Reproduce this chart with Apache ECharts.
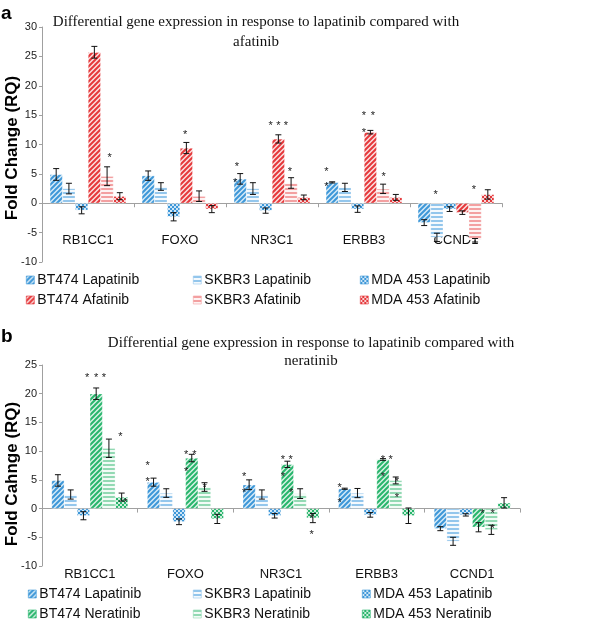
<!DOCTYPE html>
<html>
<head>
<meta charset="utf-8">
<script src="https://cdn.jsdelivr.net/npm/echarts@6/dist/echarts.min.js"></script>
<style>
  html, body { margin: 0; padding: 0; background: #fff; }
  #chart { width: 600px; height: 636px; }
</style>
</head>
<body>
<div id="chart"></div>
<script>
const genes = ['RB1CC1', 'FOXO', 'NR3C1', 'ERBB3', 'CCND1'];
const namesA = ['BT474 Lapatinib', 'SKBR3 Lapatinib', 'MDA 453 Lapatinib', 'BT474 Afatinib', 'SKBR3 Afatinib', 'MDA 453 Afatinib'];
const namesB = ['BT474 Lapatinib', 'SKBR3 Lapatinib', 'MDA 453 Lapatinib', 'BT474 Neratinib', 'SKBR3 Neratinib', 'MDA 453 Neratinib'];
const ticksA = { min: -10, max: 30, step: 5 };
const ticksB = { min: -10, max: 25, step: 5 };

// panel a: lapatinib vs afatinib
const bt474LapA = [4.9, 4.7, 4.15, 3.55, -3.3];
const skbr3LapA = [2.5, 2.85, 2.5, 2.7, -5.8];
const mdaLapA = [-1.2, -2.3, -1.25, -1.0, -1.0];
const bt474Afa = [25.7, 9.4, 10.95, 12.1, -1.6];
const skbr3Afa = [4.6, 1.2, 3.45, 2.45, -6.3];
const mdaAfa = [1.2, -1.0, 1.0, 1.0, 1.5];
const bt474LapAErr = [1.0, 0.8, 0.9, 0.1, 0.5];
const skbr3LapAErr = [0.9, 0.65, 1.0, 0.7, 0.7];
const mdaLapAErr = [0.6, 0.7, 0.45, 0.55, 0.4];
const bt474AfaErr = [1.0, 0.95, 0.7, 0.3, 0.3];
const skbr3AfaErr = [1.6, 0.9, 0.9, 0.8, 0.3];
const mdaAfaErr = [0.6, 0.6, 0.4, 0.5, 0.8];

// panel b: lapatinib vs neratinib
const bt474LapB = [4.9, 4.6, 4.15, 3.45, -3.5];
const skbr3LapB = [2.45, 2.7, 2.45, 2.7, -5.7];
const mdaLapB = [-1.25, -2.3, -1.25, -1.1, -1.1];
const bt474Ner = [20.0, 8.8, 7.7, 8.55, -3.25];
const skbr3Ner = [10.5, 3.75, 2.6, 4.9, -3.7];
const mdaNer = [2.0, -1.8, -1.65, -1.25, 1.0];
const bt474LapBErr = [1.0, 0.7, 0.85, 0.1, 0.35];
const skbr3LapBErr = [0.8, 0.75, 0.8, 0.8, 0.7];
const mdaLapBErr = [0.7, 0.5, 0.4, 0.4, 0.2];
const bt474NerErr = [1.0, 0.65, 0.55, 0.15, 0.8];
const skbr3NerErr = [1.6, 0.75, 0.85, 0.6, 0.8];
const mdaNerErr = [0.7, 0.8, 0.8, 1.35, 0.9];

// asterisks: [gene index, bar slot (0..5), value]
const starsA = [
  [0, 4.2, 8.2],
  [1, 2.9, 12.2],
  [2, 2.4, 13.7], [2, 3.0, 13.7], [2, 3.6, 13.7], [2, -0.25, 6.7], [2, -0.4, 4.0], [2, 3.9, 5.85],
  [3, -0.45, 5.85], [3, -0.45, 3.2], [3, 2.5, 15.3], [3, 3.2, 15.3], [3, 2.5, 12.5], [3, 4.05, 5.0],
  [4, 0.9, 2.0], [4, 3.9, 2.7]
];
const starsB = [
  [0, 2.3, 23.2], [0, 3.0, 23.2], [0, 3.6, 23.2], [0, 4.9, 13.0], [0, 5.3, 1.5],
  [1, -0.47, 7.95], [1, -0.47, 5.1], [1, 2.55, 9.8], [1, 3.2, 9.8], [1, 2.55, 6.9], [1, 4.0, 4.15],
  [2, -0.4, 6.0], [2, -0.4, 3.3], [2, 2.65, 8.9], [2, 3.25, 8.9], [2, 2.65, 6.0], [2, 3.3, 3.3], [2, 4.9, -1.25], [2, 4.9, -4.1],
  [3, -0.4, 4.15], [3, -0.4, 1.5], [3, 3.0, 8.9], [3, 3.6, 8.9], [3, 3.0, 6.0], [3, 4.1, 5.1], [3, 4.1, 2.3],
  [4, 3.3, -0.4], [4, 4.1, -0.4], [4, 4.1, -3.1]
];

const valuesA = [bt474LapA, skbr3LapA, mdaLapA, bt474Afa, skbr3Afa, mdaAfa];
const errorsA = [bt474LapAErr, skbr3LapAErr, mdaLapAErr, bt474AfaErr, skbr3AfaErr, mdaAfaErr];
const valuesB = [bt474LapB, skbr3LapB, mdaLapB, bt474Ner, skbr3Ner, mdaNer];
const errorsB = [bt474LapBErr, skbr3LapBErr, mdaLapBErr, bt474NerErr, skbr3NerErr, mdaNerErr];

const SANS = 'Liberation Sans, Arial, sans-serif';
const SERIF = 'Liberation Serif, Times New Roman, serif';

function makePattern(kind, fg, bg) {
  const c = document.createElement('canvas');
  const ctx = c.getContext('2d');
  if (kind === 'diag') {
    c.width = c.height = 5;
    ctx.fillStyle = bg;
    ctx.fillRect(0, 0, 5, 5);
    ctx.strokeStyle = fg;
    ctx.lineWidth = 2;
    ctx.beginPath();
    ctx.moveTo(-1, 6); ctx.lineTo(6, -1);
    ctx.moveTo(-3, 3); ctx.lineTo(3, -3);
    ctx.moveTo(2, 8); ctx.lineTo(8, 2);
    ctx.stroke();
  } else if (kind === 'horiz') {
    c.width = c.height = 4;
    ctx.fillStyle = bg;
    ctx.fillRect(0, 0, 4, 4);
    ctx.fillStyle = fg;
    ctx.fillRect(0, 0, 4, 2);
  } else {
    c.width = c.height = 4;
    ctx.fillStyle = fg;
    ctx.fillRect(0, 0, 4, 4);
    ctx.fillStyle = bg;
    ctx.fillRect(0, 0, 2, 2);
    ctx.fillRect(2, 2, 2, 2);
  }
  return { image: c, repeat: 'repeat' };
}

const blueInk = ['#3d97d8', '#93c6ec', '#3d97d8'];
const redInk = ['#e5383b', '#f3a0a1', '#e5383b'];
const greenInk = ['#27b56c', '#92d9b3', '#27b56c'];
const blue = [makePattern('diag', blueInk[0], '#d4eaf8'), makePattern('horiz', blueInk[1], '#f4f9fd'), makePattern('check', blueInk[2], '#cfe6f7')];
const red = [makePattern('diag', redInk[0], '#fbe0e0'), makePattern('horiz', redInk[1], '#fdf3f3'), makePattern('check', redInk[2], '#f9d3d3')];
const green = [makePattern('diag', greenInk[0], '#d6f2e3'), makePattern('horiz', greenInk[1], '#f2fbf6'), makePattern('check', greenInk[2], '#cdeedb')];
const fillsA = blue.concat(red);
const fillsB = blue.concat(green);
const inksA = blueInk.concat(redInk);
const inksB = blueInk.concat(greenInk);

function errorRenderer(gapFrac) {
  return function (params, api) {
    const cat = api.value(0);
    const val = api.value(1);
    const err = api.value(2);
    const slot = api.value(3);
    const band = api.size([1, 0])[0];
    const barW = band * (1 - gapFrac) / 6;
    const x = api.coord([cat, val])[0] + (slot - 2.5) * barW;
    const yTop = api.coord([cat, val + err])[1];
    const yBot = api.coord([cat, val - err])[1];
    const cap = 3;
    const st = { stroke: '#111', lineWidth: 1 };
    return {
      type: 'group',
      children: [
        { type: 'line', shape: { x1: x, y1: yTop, x2: x, y2: yBot }, style: st },
        { type: 'line', shape: { x1: x - cap, y1: yTop, x2: x + cap, y2: yTop }, style: st },
        { type: 'line', shape: { x1: x - cap, y1: yBot, x2: x + cap, y2: yBot }, style: st }
      ]
    };
  };
}

function starRenderer(gapFrac) {
  return function (params, api) {
    const cat = api.value(0);
    const slot = api.value(1);
    const val = api.value(2);
    const band = api.size([1, 0])[0];
    const barW = band * (1 - gapFrac) / 6;
    const pt = api.coord([cat, val]);
    return {
      type: 'text',
      x: pt[0] + (slot - 2.5) * barW,
      y: pt[1] + 3,
      style: { text: '*', textAlign: 'center', textVerticalAlign: 'middle', font: '11px ' + SANS, fill: '#222' }
    };
  };
}

function buildPanel(idx, names, values, errors, fills, stars, gapFrac) {
  const list = [];
  names.forEach((name, i) => {
    list.push({
      name,
      type: 'bar',
      xAxisIndex: idx,
      yAxisIndex: idx,
      data: values[i],
      barGap: '0%',
      barCategoryGap: Math.round(gapFrac * 100) + '%',
      itemStyle: { color: fills[i], borderColor: 'rgba(255,255,255,0.6)', borderWidth: 0.5 }
    });
  });
  const errData = [];
  values.forEach((vals, i) => {
    vals.forEach((v, c) => errData.push([c, v, errors[i][c], i]));
  });
  list.push({
    type: 'custom',
    xAxisIndex: idx,
    yAxisIndex: idx,
    renderItem: errorRenderer(gapFrac),
    encode: { x: 0, y: 1 },
    data: errData,
    z: 5,
    silent: true
  });
  list.push({
    type: 'custom',
    xAxisIndex: idx,
    yAxisIndex: idx,
    renderItem: starRenderer(gapFrac),
    encode: { x: 0, y: 2 },
    data: stars,
    z: 6,
    silent: true
  });
  return list;
}

function legendColumns(names, inks, top, lefts) {
  return lefts.map((left, col) => ({
    orient: 'vertical',
    left,
    top,
    icon: 'rect',
    itemWidth: 8,
    itemHeight: 8,
    itemGap: 6,
    padding: 0,
    selectedMode: false,
    data: [col, col + 3].map(k => ({
      name: names[k],
      itemStyle: { borderColor: inks[k], borderWidth: 0.6 }
    })),
    textStyle: { fontFamily: SANS, fontSize: 14, color: '#111', padding: [0, 0, 0, -2] }
  }));
}

function yAxisFor(idx, t) {
  return {
    type: 'value',
    gridIndex: idx,
    min: t.min,
    max: t.max,
    interval: t.step,
    splitLine: { show: false },
    axisLine: { show: true, lineStyle: { color: '#a0a0a0' } },
    axisTick: { show: true, length: 3, lineStyle: { color: '#a0a0a0' } },
    axisLabel: { fontFamily: SANS, fontSize: 11, color: '#222', margin: 5 }
  };
}

function xAxisFor(idx, margin) {
  return {
    type: 'category',
    gridIndex: idx,
    data: genes,
    axisLine: { onZero: true, lineStyle: { color: '#a0a0a0' } },
    axisTick: { show: true, length: 4, lineStyle: { color: '#a0a0a0' } },
    axisLabel: { fontFamily: SANS, fontSize: 13, color: '#111', margin }
  };
}

const chart = echarts.init(document.getElementById('chart'), null, { renderer: 'canvas' });

chart.setOption({
  animation: false,
  backgroundColor: '#fff',
  grid: [
    { left: 42, top: 27, width: 460, height: 235 },
    { left: 42, top: 365, width: 478, height: 201 }
  ],
  xAxis: [xAxisFor(0, -28), xAxisFor(1, 2)],
  yAxis: [yAxisFor(0, ticksA), yAxisFor(1, ticksB)],
  legend: legendColumns(namesA, inksA, 273, [26, 193, 360]).concat(legendColumns(namesB, inksB, 587, [28, 193, 362])),
  graphic: [
    { type: 'text', x: 1, y: 14, style: { text: 'a', font: 'bold 19px ' + SANS, fill: '#000', textVerticalAlign: 'middle' } },
    { type: 'text', x: 1, y: 337, style: { text: 'b', font: 'bold 19px ' + SANS, fill: '#000', textVerticalAlign: 'middle' } },
    {
      type: 'text', x: 256, y: 32,
      style: { text: 'Differential gene expression in response to lapatinib compared with\nafatinib', font: '15px ' + SERIF, fill: '#111', textAlign: 'center', textVerticalAlign: 'middle', lineHeight: 20 }
    },
    {
      type: 'text', x: 311, y: 352,
      style: { text: 'Differential gene expression in response to lapatinib compared with\nneratinib', font: '15px ' + SERIF, fill: '#111', textAlign: 'center', textVerticalAlign: 'middle', lineHeight: 18 }
    },
    {
      type: 'text', x: 12, y: 148, rotation: Math.PI / 2,
      style: { text: 'Fold Change (RQ)', font: 'bold 17px ' + SANS, fill: '#000', textAlign: 'center', textVerticalAlign: 'middle' }
    },
    {
      type: 'text', x: 12, y: 474, rotation: Math.PI / 2,
      style: { text: 'Fold Cahnge (RQ)', font: 'bold 17px ' + SANS, fill: '#000', textAlign: 'center', textVerticalAlign: 'middle' }
    }
  ],
  series: buildPanel(0, namesA, valuesA, errorsA, fillsA, starsA, 0.17)
    .concat(buildPanel(1, namesB, valuesB, errorsB, fillsB, starsB, 0.2))
});
</script>
</body>
</html>
